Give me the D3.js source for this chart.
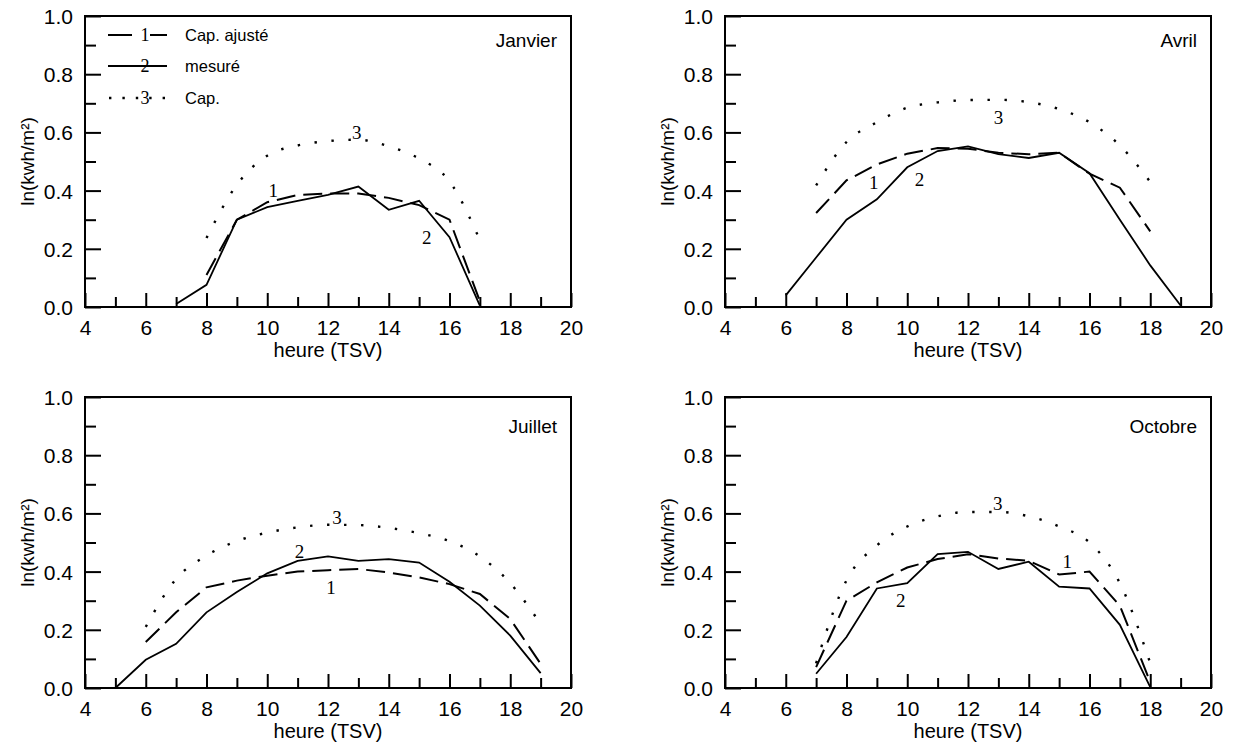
<!DOCTYPE html>
<html>
<head>
<meta charset="utf-8">
<script src="https://cdn.jsdelivr.net/npm/d3@7"></script>
<style>
  body { margin: 0; background: #fff; }
  text { font-family: "Liberation Sans", Arial, sans-serif; fill: #000; }
  .num { font-family: "Liberation Serif", "Times New Roman", serif; }
</style>
</head>
<body>
<div id="chart"></div>
<script>
// axes
const xMajor = [4, 6, 8, 10, 12, 14, 16, 18, 20];
const xMinor = [5, 7, 9, 11, 13, 15, 17, 19];
const yMajor = [0, 0.2, 0.4, 0.6, 0.8, 1.0];
const yMinor = [0.1, 0.3, 0.5, 0.7, 0.9];
const seriesNames = ["Cap. ajusté", "mesuré", "Cap."];

// [heure, valeur] -- 1 = Cap. ajusté, 2 = mesuré, 3 = Cap.
const janAjuste = [[8,0.11],[9,0.30],[10,0.36],[11,0.385],[12,0.39],[13,0.39],[14,0.375],[15,0.35],[16,0.30],[17,0.02]];
const janMesure = [[7,0.01],[8,0.076],[9,0.30],[10,0.343],[11,0.365],[12,0.385],[13,0.414],[14,0.334],[15,0.365],[16,0.24],[17,0.005]];
const janCap    = [[8,0.237],[9,0.42],[10,0.52],[11,0.555],[12,0.57],[13,0.575],[14,0.552],[15,0.51],[16,0.432],[17,0.23]];
const janLabels = [["1",10.2,0.40],["2",15.25,0.24],["3",12.95,0.60]];

const avrAjuste = [[7,0.323],[8,0.435],[9,0.49],[10,0.527],[11,0.546],[12,0.544],[13,0.53],[14,0.525],[15,0.53],[16,0.458],[17,0.41],[18,0.26]];
const avrMesure = [[6,0.04],[7,0.17],[8,0.30],[9,0.37],[10,0.48],[11,0.536],[12,0.552],[13,0.525],[14,0.512],[15,0.53],[16,0.46],[17,0.30],[18,0.143],[19,0.005]];
const avrCap    = [[7,0.418],[8,0.567],[9,0.635],[10,0.685],[11,0.703],[12,0.711],[13,0.712],[14,0.704],[15,0.68],[16,0.635],[17,0.555],[18,0.43]];
const avrLabels = [["1",8.9,0.43],["2",10.4,0.44],["3",13.0,0.653]];

const juiAjuste = [[6,0.158],[7,0.26],[8,0.346],[9,0.369],[10,0.386],[11,0.40],[12,0.405],[13,0.409],[14,0.397],[15,0.38],[16,0.357],[17,0.323],[18,0.237],[19,0.083]];
const juiMesure = [[5,0],[6,0.097],[7,0.152],[8,0.26],[9,0.33],[10,0.394],[11,0.437],[12,0.452],[13,0.437],[14,0.443],[15,0.431],[16,0.365],[17,0.283],[18,0.18],[19,0.051]];
const juiCap    = [[6,0.21],[7,0.375],[8,0.455],[9,0.505],[10,0.534],[11,0.552],[12,0.561],[13,0.56],[14,0.55],[15,0.532],[16,0.505],[17,0.452],[18,0.36],[19,0.22]];
const juiLabels = [["2",11.06,0.47],["1",12.1,0.347],["3",12.3,0.585]];

const octAjuste = [[7,0.072],[8,0.30],[9,0.363],[10,0.414],[11,0.443],[12,0.46],[13,0.445],[14,0.437],[15,0.39],[16,0.40],[17,0.283],[18,0.02]];
const octMesure = [[7,0.049],[8,0.175],[9,0.342],[10,0.36],[11,0.46],[12,0.468],[13,0.409],[14,0.434],[15,0.348],[16,0.342],[17,0.217],[18,0.003]];
const octCap    = [[7,0.085],[8,0.37],[9,0.49],[10,0.555],[11,0.59],[12,0.605],[13,0.605],[14,0.59],[15,0.555],[16,0.50],[17,0.36],[18,0.085]];
const octLabels = [["3",12.98,0.635],["1",15.27,0.434],["2",9.79,0.30]];

const pw = 486, ph = 291;
const panels = [
  { name: "Janvier", left: 85,  top: 16,  nameDy: 31, series: [janAjuste, janMesure, janCap], labels: janLabels, legend: true },
  { name: "Avril",   left: 725, top: 16,  nameDy: 31, series: [avrAjuste, avrMesure, avrCap], labels: avrLabels },
  { name: "Juillet", left: 85,  top: 397, nameDy: 36, series: [juiAjuste, juiMesure, juiCap], labels: juiLabels },
  { name: "Octobre", left: 725, top: 397, nameDy: 36, series: [octAjuste, octMesure, octCap], labels: octLabels }
];

const styles = [
  { dash: "19,8", width: 2 },
  { dash: null, width: 1.8 },
  { dash: "2.4,14.6", width: 2.4 }
];

const svg = d3.select("#chart").append("svg")
  .attr("width", 1235)
  .attr("height", 751);

const x = d3.scaleLinear().domain([4, 20]).range([0, pw]);
const y = d3.scaleLinear().domain([0, 1]).range([ph, 0]);

panels.forEach(p => {
  const g = svg.append("g").attr("transform", `translate(${p.left},${p.top})`);

  // x ticks (inward)
  g.append("g")
    .attr("transform", `translate(0,${ph})`)
    .call(d3.axisBottom(x).tickValues(xMajor).tickSize(-14).tickPadding(13).tickFormat(d3.format("d")))
    .call(a => a.select(".domain").remove())
    .call(a => a.selectAll(".tick line").attr("stroke-width", 2))
    .call(a => a.selectAll("text").style("font-size", "21px").style("font-family", "Liberation Sans, Arial, sans-serif"));
  g.append("g")
    .attr("transform", `translate(0,${ph})`)
    .call(d3.axisBottom(x).tickValues(xMinor).tickSize(-10).tickFormat(""))
    .call(a => a.select(".domain").remove())
    .call(a => a.selectAll(".tick line").attr("stroke-width", 2));

  // y ticks (inward)
  g.append("g")
    .call(d3.axisLeft(y).tickValues(yMajor).tickSize(-16).tickPadding(12).tickFormat(d3.format(".1f")))
    .call(a => a.select(".domain").remove())
    .call(a => a.selectAll(".tick line").attr("stroke-width", 2))
    .call(a => a.selectAll("text").attr("dy", "0.36em").style("font-size", "21px").style("font-family", "Liberation Sans, Arial, sans-serif"));
  g.append("g")
    .call(d3.axisLeft(y).tickValues(yMinor).tickSize(-11).tickFormat(""))
    .call(a => a.select(".domain").remove())
    .call(a => a.selectAll(".tick line").attr("stroke-width", 2));

  // frame
  g.append("rect")
    .attr("width", pw).attr("height", ph)
    .attr("fill", "none").attr("stroke", "#000").attr("stroke-width", 2);

  // lines
  p.series.forEach((s, i) => {
    const line = d3.line()
      .x(d => x(d[0]))
      .y(d => y(d[1]))
      .curve(i === 2 ? d3.curveMonotoneX : d3.curveLinear);
    g.append("path")
      .datum(s)
      .attr("fill", "none")
      .attr("stroke", "#000")
      .attr("stroke-width", styles[i].width)
      .attr("stroke-dasharray", styles[i].dash)
      .attr("d", line);
  });

  // curve numbers
  g.selectAll(".num")
    .data(p.labels)
    .enter()
    .append("text")
    .attr("class", "num")
    .attr("x", d => x(d[1]))
    .attr("y", d => y(d[2]))
    .attr("dy", "0.35em")
    .attr("text-anchor", "middle")
    .style("font-size", "19px")
    .text(d => d[0]);

  // month name
  g.append("text")
    .attr("x", pw - 14)
    .attr("y", p.nameDy)
    .attr("text-anchor", "end")
    .style("font-size", "19px")
    .text(p.name);

  // axis titles
  g.append("text")
    .attr("x", pw / 2)
    .attr("y", ph + 50)
    .attr("text-anchor", "middle")
    .style("font-size", "20px")
    .text("heure (TSV)");

  g.append("text")
    .attr("transform", `translate(-58,${ph / 2}) rotate(-90)`)
    .attr("text-anchor", "middle")
    .attr("dy", "0.35em")
    .style("font-size", "19px")
    .text("ln(kwh/m²)");

  if (p.legend) {
    const rows = [19, 50, 82];
    seriesNames.forEach((n, i) => {
      g.append("line")
        .attr("x1", 23).attr("x2", 82)
        .attr("y1", rows[i]).attr("y2", rows[i])
        .attr("stroke", "#000")
        .attr("stroke-width", styles[i].width)
        .attr("stroke-dasharray", i === 0 ? "24,18" : (i === 2 ? "2.4,11" : null))
        .attr("stroke-dashoffset", i === 2 ? -1 : 0);
      g.append("text")
        .attr("class", "num")
        .attr("x", 60).attr("y", rows[i])
        .attr("dy", "0.35em")
        .attr("text-anchor", "middle")
        .style("font-size", "18px")
        .text(i + 1);
      g.append("text")
        .attr("x", 100).attr("y", rows[i])
        .attr("dy", "0.35em")
        .style("font-size", "16.5px")
        .text(n);
    });
  }
});
</script>
</body>
</html>
